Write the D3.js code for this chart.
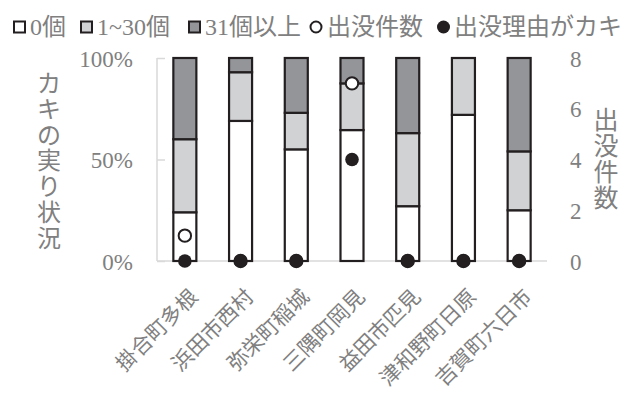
<!DOCTYPE html>
<html><head><meta charset="utf-8">
<script src="https://cdn.jsdelivr.net/npm/d3@7"></script>
<style>
body{margin:0;background:#fff;}
</style></head>
<body><svg id="c" width="632" height="396"></svg>
<script>
const categories = ["掛合町多根","浜田市西村","弥栄町稲城","三隅町岡見","益田市匹見","津和野町日原","吉賀町六日市"];
const zero = [24, 69, 55, 64.5, 27, 72, 25];
const few = [36, 24, 18, 23, 36, 28, 29];
const many = [40, 7, 27, 12.5, 37, 0, 46];
const sightings = [1, 0, 0, 7, 0, 0, 0];
const persimmonReason = [0, 0, 0, 4, 0, 0, 0];
const leftTicks = [0, 0.5, 1];
const rightTicks = [0, 2, 4, 6, 8];
const seriesNames = ["0個", "1~30個", "31個以上", "出没件数", "出没理由がカキ"];

const FONT = "Liberation Serif, Noto Sans CJK JP, serif";
const svg = d3.select("#c");
const textCol = "#808080";
const fills = ["#ffffff", "#d1d2d4", "#939598"];
const stroke = "#231f20";

const x = d3.scaleBand().domain(categories).range([157, 547]).paddingInner(0.587).paddingOuter(0.2935);
const y = d3.scaleLinear().domain([0, 1]).range([261, 58]);
const y2 = d3.scaleLinear().domain([0, 8]).range([261, 58]);

// left axis
const la = svg.append("g").attr("transform", "translate(157,0)")
  .call(d3.axisLeft(y).tickValues(leftTicks).tickFormat(d3.format(".0%")).tickSize(-8).tickPadding(24));
la.attr("font-family", FONT);
la.select(".domain").attr("stroke", "#d9d9d9").attr("stroke-width", 1.5).attr("d", "M0,58V261");
la.selectAll(".tick line").attr("stroke", "#d9d9d9").attr("stroke-width", 1.5);
la.selectAll(".tick text").attr("fill", textCol).attr("font-size", 23).attr("dy", "0.35em");

// right axis
const ra = svg.append("g").attr("transform", "translate(547,0)")
  .call(d3.axisRight(y2).tickValues(rightTicks).tickFormat(d3.format("d")).tickSize(0).tickPadding(23));
ra.attr("font-family", FONT);
ra.select(".domain").remove();
ra.selectAll(".tick text").attr("fill", textCol).attr("font-size", 23).attr("dy", "0.35em");

// x baseline
svg.append("line").attr("x1", 157).attr("x2", 547).attr("y1", y(0)).attr("y2", y(0))
  .attr("stroke", "#d9d9d9").attr("stroke-width", 1.5);

// stacked bars
const rows = categories.map((c, i) => ({cat: c, zero: zero[i] / 100, few: few[i] / 100, many: many[i] / 100}));
const stack = d3.stack().keys(["zero", "few", "many"])(rows);
stack.forEach((layer, li) => {
  svg.append("g").selectAll("rect").data(layer.filter(d => d[1] - d[0] > 0)).join("rect")
    .attr("x", d => x(d.data.cat))
    .attr("width", x.bandwidth())
    .attr("y", d => y(d[1]))
    .attr("height", d => y(d[0]) - y(d[1]))
    .attr("fill", fills[li]).attr("stroke", stroke).attr("stroke-width", 2.2);
});

// points
svg.append("g").selectAll("circle").data(sightings).join("circle")
  .attr("cx", (d, i) => x(categories[i]) + x.bandwidth() / 2)
  .attr("cy", d => y2(d)).attr("r", 6.2)
  .attr("fill", "#fff").attr("stroke", stroke).attr("stroke-width", 2);
svg.append("g").selectAll("circle").data(persimmonReason).join("circle")
  .attr("cx", (d, i) => x(categories[i]) + x.bandwidth() / 2)
  .attr("cy", d => y2(d)).attr("r", 6.8)
  .attr("fill", stroke);

// x labels
svg.append("g").selectAll("text").data(categories).join("text")
  .attr("transform", d => `translate(${x(d) + x.bandwidth() / 2 + 9},${293}) rotate(-45)`)
  .attr("text-anchor", "end").attr("font-size", 21).attr("fill", textCol)
  .attr("font-family", FONT)
  .attr("dy", "0.35em")
  .text(d => d);

// axis titles (vertical)
const lt = "カキの実り状況";
svg.append("text").attr("font-size", 24).attr("fill", textCol).attr("text-anchor", "middle")
  .attr("font-family", FONT)
  .selectAll("tspan").data(Array.from(lt)).join("tspan")
  .attr("x", 49).attr("y", (d, i) => 92 + i * 25.8).text(d => d);
const rt = "出没件数";
svg.append("text").attr("font-size", 25).attr("fill", textCol).attr("text-anchor", "middle")
  .attr("font-family", FONT)
  .selectAll("tspan").data(Array.from(rt)).join("tspan")
  .attr("x", 606).attr("y", (d, i) => 129 + i * 26).text(d => d);

// legend
const lg = svg.append("g");
const markerX = [13, 80, 188, 310, 437];
const ly = 27;
seriesNames.forEach((name, i) => {
  const lx = markerX[i];
  if (i < 3) {
    lg.append("rect").attr("x", lx + 1).attr("y", ly - 5.5).attr("width", 11).attr("height", 11)
      .attr("fill", fills[i]).attr("stroke", stroke).attr("stroke-width", 2);
  } else if (i === 3) {
    lg.append("circle").attr("cx", lx + 6).attr("cy", ly).attr("r", 5.5)
      .attr("fill", "#fff").attr("stroke", stroke).attr("stroke-width", 2);
  } else {
    lg.append("circle").attr("cx", lx + 6.5).attr("cy", ly).attr("r", 6.5).attr("fill", stroke);
  }
  lg.append("text").attr("x", lx + 17).attr("y", ly).attr("dy", "0.35em")
    .attr("font-size", 24).attr("fill", textCol).attr("font-family", FONT).text(name);
});
</script></body></html>
